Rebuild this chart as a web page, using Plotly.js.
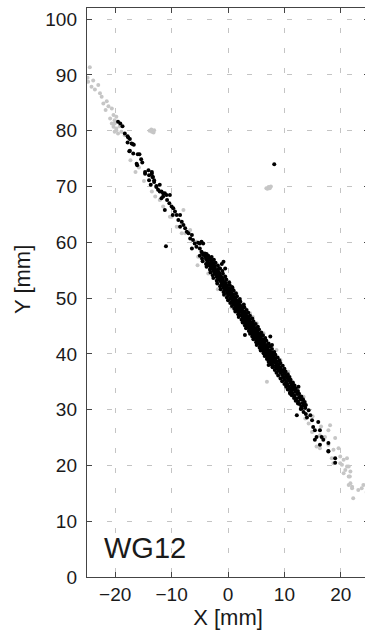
<!DOCTYPE html>
<html>
<head>
<meta charset="utf-8">
<script src="https://cdn.plot.ly/plotly-3.0.1.min.js"></script>
<style>
  html, body { margin: 0; padding: 0; overflow: hidden; background: #fff; }
  #chart { width: 370px; height: 631px; }
</style>
</head>
<body>
<div id="chart"></div>
<script>
// Track points [x, y] in mm. Grey = all detections, black = selected hits.
const grayUpperTail = [
  [-24.5,91.4],[-24.8,88.8],[-24.2,87.9],[-23.0,88.2],[-23.6,87.4],[-22.7,86.7],[-22.4,86.1],
  [-22.1,84.9],[-21.2,84.4],[-21.7,83.7],[-20.6,84.0],[-20.3,82.8],[-20.9,82.2],[-19.8,82.5],
  [-20.1,81.3],[-19.8,80.4],[-19.2,80.8],[-18.9,79.8],[-18.3,79.2],[-17.3,74.7],[-20.1,81.9],
  [-20.6,81.3],[-20.3,80.7],[-19.8,80.1],[-19.5,79.5],[-20.1,79.8],[-24.9,89.5],[-23.9,89.0],
  [-21.5,85.3]
];
const grayBand = [
  [-13.5,69.1],[-12.1,67.6],[-10.3,64.6],[-7.9,65.8],[-9.1,62.8],[-8.2,61.6],[-6.7,62.2],
  [-5.3,57.4],[-4.7,57.1],[-11.5,66.4],[-10.0,64.6],[-8.2,63.4],[-7.6,61.6],[-5.6,60.1],
  [-4.7,57.4],[-2.9,55.6],[-0.5,53.8],[-1.4,53.5],[0.4,51.1],[2.1,49.1],[3.9,47.3],[5.1,45.5],
  [6.3,43.7],[5.7,42.5],[8.6,40.7],[9.8,37.1],[10.7,36.8],[10.4,35.3],[6.9,35.0],[-3.5,54.4],
  [-15.8,73.4],[-14.9,71.0],[-16.4,72.6],[-12.9,68.2],[-2.0,54.9],[1.5,50.8],[3.0,47.0],
  [4.4,46.6],[7.0,41.6],[8.1,38.5],[9.3,38.9],[11.2,34.9],[12.0,33.0],[-3.6,56.8],[-0.9,52.5],
  [-5.4,55.9],[-1.8,51.6],[2.9,45.3],[0.6,48.3],[8.8,36.6],[4.9,42.3]
];
const grayLowerTail = [
  [13.4,32.3],[13.7,28.4],[14.3,27.5],[14.9,26.0],[18.1,27.2],[17.8,26.3],[19.0,24.9],
  [19.6,23.1],[16.3,23.1],[18.4,21.3],[18.7,20.4],[19.9,21.6],[20.5,21.0],[20.2,20.1],
  [21.1,19.8],[20.8,19.2],[21.7,18.9],[21.4,18.0],[21.7,16.8],[22.0,16.2],[19.9,20.4],
  [21.1,21.3],[21.4,19.8],[20.5,18.6],[21.6,18.0],[21.4,16.5],[22.0,15.9],[22.2,14.1],
  [23.1,15.6],[23.7,15.9],[24.0,16.5],[18.7,22.8],[17.8,23.7],[15.7,23.4],[16.3,25.4],
  [15.0,28.8],[16.5,27.0],[17.2,25.1],[24.6,15.2]
];
const grayClusters = [
  [-13.9,80.0],[-13.5,79.8],[-13.1,80.1],[-13.6,80.2],[-13.2,79.7],
  [6.8,69.7],[7.2,69.9],[7.6,70.0],[7.0,69.6],[7.4,69.7]
];

const blackUpper = [
  [-19.5,81.6],[-19.1,81.3],[-18.7,80.8],[-18.3,79.5],[-17.8,79.0],[-17.7,78.8],[-17.4,78.5],
  [-17.8,77.9],[-17.1,77.7],[-16.7,77.5],[-16.9,77.6],[-17.5,76.3],[-17.4,76.4],[-16.8,75.9],
  [-15.7,75.8],[-16.0,75.8],[-15.4,74.9],[-16.2,74.1],[-15.2,74.3],[-16.1,73.8],[-14.7,72.6],
  [-14.1,72.9],[-13.5,72.6],[-14.7,72.3],[-13.5,72.3],[-14.0,72.0],[-13.4,71.7],[-13.3,71.7],
  [-14.0,71.1],[-13.1,71.1],[-13.1,70.8],[-13.7,70.3],[-12.7,70.1],[-12.1,70.3],[-12.7,69.9],
  [-12.4,69.4],[-12.1,69.1],[-11.8,69.1],[-11.5,68.8],[-11.2,68.8],[-10.9,68.5],[-10.3,68.5],
  [-11.5,68.2],[-11.8,67.9],[-10.8,67.6],[-10.4,67.0],[-10.0,66.4],[-11.2,65.8],[-9.7,66.1],
  [-9.4,65.5],[-9.1,64.9],[-9.8,64.9],[-8.5,64.9],[-8.8,64.0],[-8.2,63.7],[-7.9,63.1],
  [-8.5,62.8],[-7.6,62.5],[-7.3,61.9],[-7.0,61.6],[-6.4,61.3],[-6.7,60.7],[-6.2,60.4],
  [-5.9,59.8],[-5.3,59.9],[-4.7,60.1],[-5.6,59.2],[-5.0,58.9],[-4.7,58.3],[-6.4,58.9],
  [-4.4,59.8]
];
const blackCore = [
  [-4.6,58.1],[-3.8,57.9],[-4.1,58.0],[-4.4,57.7],[-3.5,57.6],[-4.0,57.4],[-3.6,57.3],[-3.1,57.2],
  [-3.9,57.0],[-3.4,56.9],[-2.9,56.8],[-3.7,56.7],[-3.0,56.5],[-3.6,56.4],[-2.6,56.3],[-3.3,56.2],
  [-2.8,56.0],[-3.4,55.9],[-2.4,55.8],[-3.0,55.7],[-2.7,55.5],[-2.3,55.4],[-3.1,55.3],[-2.5,55.2],
  [-2.0,55.0],[-2.6,54.9],[-2.2,54.8],[-1.7,54.7],[-2.4,54.6],[-1.9,54.5],[-1.5,54.4],[-2.2,54.3],
  [-1.6,54.1],[-1.9,54.0],[-1.3,53.9],[-2.0,53.8],[-1.1,53.7],[-1.6,53.6],[-1.3,53.5],[-0.9,53.4],
  [-1.8,53.3],[-1.0,53.2],[-1.3,53.0],[-0.6,52.9],[-1.1,52.8],[-0.4,52.7],[-0.9,52.6],[-0.6,52.5],
  [-1.2,52.4],[-0.2,52.3],[-0.7,52.2],[-0.3,52.0],[-0.8,51.9],[0.1,51.8],[-0.4,51.7],[0.3,51.6],
  [-0.1,51.5],[-0.6,51.4],[0.4,51.3],[0.0,51.2],[0.3,51.0],[-0.2,50.9],[0.7,50.8],[0.2,50.7],
  [0.9,50.6],[0.5,50.5],[0.0,50.4],[0.8,50.3],[1.2,50.2],[0.6,50.1],[0.9,50.0],[0.4,49.9],
  [1.3,49.8],[0.9,49.7],[1.6,49.6],[1.1,49.5],[0.7,49.4],[1.5,49.3],[1.9,49.2],[1.2,49.1],
  [1.6,49.0],[1.0,48.9],[2.0,48.8],[1.4,48.7],[2.3,48.6],[1.8,48.5],[1.3,48.4],[2.1,48.3],
  [2.6,48.2],[1.7,48.1],[2.2,48.0],[1.6,47.9],[2.5,47.8],[2.0,47.7],[2.9,47.6],[2.4,47.5],
  [1.9,47.4],[2.8,47.3],[3.2,47.2],[2.5,47.1],[2.9,47.0],[2.3,46.9],[3.3,46.8],[2.7,46.7],
  [3.6,46.6],[3.1,46.5],[2.6,46.4],[3.5,46.3],[3.9,46.2],[3.0,46.1],[3.4,46.0],[2.9,45.9],
  [3.8,45.8],[3.2,45.7],[4.2,45.6],[3.7,45.5],[3.1,45.4],[4.0,45.3],[4.5,45.2],[3.5,45.1],
  [4.1,45.0],[3.6,44.9],[4.6,44.8],[3.9,44.7],[4.9,44.6],[4.3,44.5],[3.8,44.4],[4.7,44.3],
  [5.2,44.2],[4.2,44.1],[4.8,44.0],[4.3,43.9],[5.3,43.8],[4.6,43.7],[5.6,43.6],[5.0,43.5],
  [4.4,43.4],[5.4,43.3],[5.9,43.2],[4.9,43.1],[5.4,43.0],[4.8,42.9],[5.8,42.8],[5.2,42.7],
  [6.2,42.6],[5.6,42.5],[5.1,42.4],[6.1,42.3],[6.5,42.2],[5.5,42.1],[6.0,42.0],[5.4,41.9],
  [6.4,41.8],[5.8,41.7],[6.9,41.6],[6.3,41.5],[5.7,41.4],[6.7,41.3],[7.1,41.2],[6.1,41.1],
  [6.7,41.0],[6.0,40.9],[7.0,40.8],[6.4,40.7],[7.4,40.6],[6.9,40.5],[6.3,40.4],[7.3,40.3],
  [7.8,40.2],[6.8,40.1],[7.3,40.0],[6.7,39.9],[7.7,39.8],[7.1,39.7],[8.1,39.6],[7.6,39.5],
  [7.0,39.4],[8.0,39.3],[8.4,39.2],[7.4,39.1],[7.9,39.0],[7.3,38.9],[8.4,38.8],[7.8,38.7],
  [8.7,38.6],[8.2,38.5],[7.7,38.4],[8.6,38.3],[9.1,38.2],[8.6,38.0],[8.0,37.9],[9.0,37.8],
  [8.5,37.6],[9.3,37.5],[8.8,37.3],[9.5,37.1],[9.0,37.0],[9.8,36.8],[9.3,36.6],[10.0,36.4],
  [9.6,36.2],[10.3,36.0],[9.8,35.8],[10.6,35.6],[10.0,35.4],[10.8,35.2],[10.3,35.0],[11.1,34.8],
  [10.5,34.6],[11.3,34.4],[10.8,34.2],[11.5,34.0],[11.0,33.8],[11.8,33.6],[11.2,33.4],[12.0,33.2],
  [11.5,33.0],[12.3,32.8],[11.8,32.5],[12.6,32.2],[12.1,32.0],[12.9,31.8],[12.4,31.5],[13.2,31.2],
  [12.7,31.0],[13.4,30.8],[13.0,30.5],[13.7,30.3],[12.9,30.1]
];
// hits on both flanks of the dense part of the track
const blackCoreEdges = [
  [-5.0,57.6],[-2.9,57.35],[-4.6,57.1],[-2.5,56.85],[-4.5,56.6],[-2.2,56.35],[-3.9,56.1],[-1.8,55.85],
  [-3.8,55.6],[-1.6,55.35],[-3.2,55.1],[-1.0,54.85],[-3.1,54.6],[-0.9,54.35],[-2.7,54.1],[-0.5,53.85],
  [-2.6,53.6],[-0.3,53.35],[-2.0,53.1],[0.2,52.85],[-1.9,52.6],[0.3,52.35],[-1.4,52.1],[0.8,51.85],
  [-1.3,51.6],[1.0,51.35],[-0.8,51.1],[1.4,50.85],[-0.7,50.6],[1.6,50.35],[-0.2,50.1],[2.1,49.85],
  [0.0,49.6],[2.2,49.35],[0.4,49.1],[2.8,48.85],[0.7,48.6],[2.9,48.35],[1.1,48.1],[3.3,47.85],
  [1.3,47.6],[3.6,47.35],[1.8,47.1],[3.9,46.85],[1.9,46.6],[4.3,46.35],[2.4,46.1],[4.5,45.85],
  [2.6,45.6],[4.9,45.35],[3.0,45.1],[5.3,44.85],[3.2,44.6],[5.5,44.35],[3.7,44.1],[5.9,43.85],
  [3.9,43.6],[6.2,43.35],[4.3,43.1],[6.6,42.85],[4.5,42.6],[6.8,42.35],[5.0,42.1],[7.2,41.85],
  [5.1,41.6],[7.5,41.35],[5.6,41.1],[7.8,40.85],[5.8,40.6],[8.2,40.35],[6.3,40.1],[8.4,39.85],
  [6.5,39.6],[8.8,39.35],[6.9,39.1],[9.1,38.85],[7.2,38.6],[9.3,38.35],[7.6,38.1],[9.7,37.85],
  [7.9,37.6],[10.0,37.35],[8.3,37.1],[10.2,36.85],[8.6,36.6],[10.6,36.35],[8.9,36.1],[10.9,35.85],
  [9.3,35.6],[11.1,35.35],[9.6,35.1],[11.5,34.85],[10.0,34.6],[11.8,34.35],[10.3,34.1],[12.0,33.85],
  [10.6,33.6],[12.4,33.35],[11.0,33.1],[12.6,32.85],[11.3,32.6],[13.0,32.35],[11.7,32.1],[13.3,31.85],
  [12.0,31.6],[13.6,31.35],[12.4,31.1],[13.8,30.85]
];
const blackLower = [
  [12.2,29.0],[13.4,29.6],[14.3,29.9],[14.6,29.0],[14.9,28.1],[15.1,26.9],[15.4,26.3],
  [16.0,27.8],[16.3,26.3],[15.7,25.1],[16.6,25.1],[16.9,24.6],[17.8,24.0],[16.3,23.7],
  [17.8,22.5],[19.0,21.3],[19.0,20.5],[15.4,24.6],[17.8,22.6],[13.8,29.2],[14.0,28.6]
];
const blackStray = [
  [4.2,43.7],[3.0,43.4],[7.5,43.1],[8.0,39.8],[7.2,38.0],[12.5,34.1],[11.6,34.4],[-5.0,59.8],
  [-1.1,56.1],[-0.5,55.3],[0.7,52.0],[4.5,44.6],[7.8,41.6],[11.6,33.8],[12.8,32.3],[11.0,32.9],
  [13.7,30.8],[13.1,30.2],[-0.8,56.5],[-1.4,55.3],[-11.0,59.3],[8.2,74.0]
];

const xTicks = [-20, -10, 0, 10, 20];
const yTicks = [0, 10, 20, 30, 40, 50, 60, 70, 80, 90, 100];

const grayPts = [].concat(grayUpperTail, grayBand, grayLowerTail, grayClusters);
const blackPts = [].concat(blackUpper, blackCore, blackCoreEdges, blackLower, blackStray);

const font = '"Liberation Sans", Arial, Helvetica, sans-serif';
const ink = '#1a1a1a';
const axisInk = '#444444';

function pointsTrace(pts, color) {
  return {
    type: 'scatter', mode: 'markers',
    x: pts.map(p => p[0]), y: pts.map(p => p[1]),
    marker: { color: color, size: 4, line: { width: 0 } },
    hoverinfo: 'skip', showlegend: false
  };
}

const axisCommon = {
  showline: true, linecolor: axisInk, linewidth: 1.2, mirror: 'ticks',
  ticks: 'inside', ticklen: 5, tickwidth: 1, tickcolor: axisInk,
  showgrid: true, gridcolor: '#c4c4c4', gridwidth: 1, griddash: '5px,15px',
  zeroline: false, tickfont: { family: font, size: 19, color: ink },
  tickmode: 'array', fixedrange: true
};

const layout = {
  width: 370, height: 631,
  margin: { l: 87, r: 1, t: 8, b: 54 },
  paper_bgcolor: '#ffffff', plot_bgcolor: '#ffffff',
  xaxis: Object.assign({}, axisCommon, {
    range: [-25, 25], tickvals: xTicks,
    ticktext: xTicks.map(v => v < 0 ? '\u2212' + Math.abs(v) : String(v)),
    title: { text: 'X [mm]', font: { family: font, size: 22, color: ink }, standoff: 4 }
  }),
  yaxis: Object.assign({}, axisCommon, {
    range: [0, 102], tickvals: yTicks, ticktext: yTicks.map(String),
    ticklabelstandoff: 5
  }),
  annotations: [
    {
      x: 0, y: 0.522, xref: 'paper', yref: 'paper', xanchor: 'center', yanchor: 'middle',
      xshift: -64, textangle: -90, text: 'Y [mm]', showarrow: false,
      font: { family: font, size: 22, color: ink }
    },
    {
      x: -22.4, y: 5.2, xref: 'x', yref: 'y', xanchor: 'left', yanchor: 'middle',
      text: 'WG12', showarrow: false, font: { family: font, size: 29, color: ink }
    }
  ]
};

Plotly.newPlot('chart', [pointsTrace(grayPts, '#c6c6c6'), pointsTrace(blackPts, '#000000')], layout,
  { staticPlot: true, displayModeBar: false });
</script>
</body>
</html>
